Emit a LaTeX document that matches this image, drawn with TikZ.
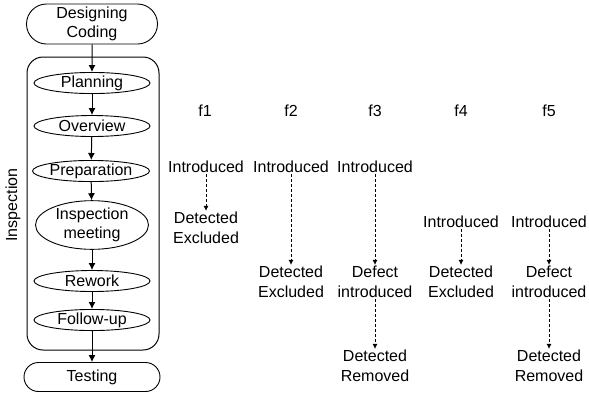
\documentclass[tikz,border=0pt]{standalone}
\usepackage{fontspec}
\setmainfont{Liberation Sans}
\usetikzlibrary{shapes.geometric, shapes.misc, arrows.meta}
\tikzset{>={Latex[length=7pt,width=7pt]}}
\tikzset{
  phase/.style = {draw, rounded rectangle, line width=0.9pt, minimum width=131pt,
    minimum height=40pt, inner sep=0pt, align=center},
  activity/.style = {draw, ellipse, line width=0.9pt, minimum width=116pt,
    minimum height=21pt, inner sep=0pt, align=center},
  txt/.style = {align=center, inner sep=1pt},
  defarrow/.style = {-{Latex[length=5pt,width=5pt]}, dashed, dash pattern=on 3pt off 2pt, line width=0.7pt}
}

\begin{document}
\begin{tikzpicture}[x=1pt, y=-1pt, font=\fontsize{16}{19.5}\selectfont, line width=1pt]
\useasboundingbox (0,0) rectangle (589,392);
% process flow
\node[draw, rounded corners=16pt, minimum width=132pt, minimum height=293pt] (insp) at (93,203.5) {};
\node[rotate=90] (insplabel) at (13,205) {Inspection};
\node[phase] (design) at (92,24) {Designing\\Coding};
\node[activity] (plan) at (92,83) {Planning};
\node[activity] (over) at (92,126) {Overview};
\node[activity, minimum width=112pt, minimum height=19pt] (prep) at (91,171) {Preparation};
\node[activity, minimum width=113pt, minimum height=40pt] (meet) at (92,225) {Inspection\\meeting};
\node[activity] (rework) at (92,281) {Rework};
\node[activity] (follow) at (92,320) {Follow-up};
\node[phase, minimum width=136pt, minimum height=29pt] (test) at (92,377) {Testing};
\draw[->] (design) -- (plan);
\draw[->] (plan) -- (over);
\draw[->] (over) -- (prep);
\draw[->] (prep) -- (meet);
\draw[->] (meet) -- (rework);
\draw[->] (rework) -- (follow);
\draw[->] (follow) -- (test);
% faults
\node[txt] (f1) at (205,111) {f1};
\node[txt] (f2) at (291,111) {f2};
\node[txt] (f3) at (375,111) {f3};
\node[txt] (f4) at (461,111) {f4};
\node[txt] (f5) at (549,111) {f5};
\node[txt] (f1in) at (206,167) {Introduced};
\node[txt] (f1det) at (206,228) {Detected\\Excluded};
\node[txt] (f2in) at (291,167) {Introduced};
\node[txt] (f2det) at (291,282) {Detected\\Excluded};
\node[txt] (f3in) at (375,167) {Introduced};
\node[txt] (f3def) at (375,282) {Defect\\introduced};
\node[txt] (f3det) at (375,366) {Detected\\Removed};
\node[txt] (f4in) at (461,222) {Introduced};
\node[txt] (f4det) at (461,282) {Detected\\Excluded};
\node[txt] (f5in) at (549,222) {Introduced};
\node[txt] (f5def) at (549,282) {Defect\\introduced};
\node[txt] (f5det) at (549,366) {Detected\\Removed};
\draw[defarrow] (f1in) -- (f1det);
\draw[defarrow] (f2in) -- (f2det);
\draw[defarrow] (f3in) -- (f3def);
\draw[defarrow] (f3def) -- (f3det);
\draw[defarrow] (f4in) -- (f4det);
\draw[defarrow] (f5in) -- (f5def);
\draw[defarrow] (f5def) -- (f5det);
\end{tikzpicture}
\end{document}
